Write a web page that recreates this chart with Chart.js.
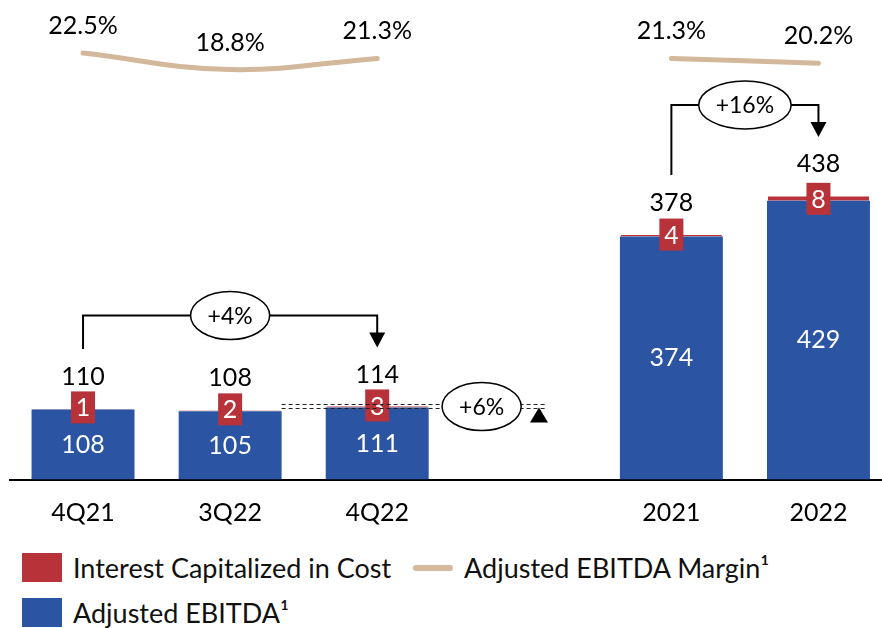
<!DOCTYPE html>
<html>
<head>
<meta charset="utf-8">
<script src="https://cdn.jsdelivr.net/npm/chart.js@4/dist/chart.umd.min.js"></script>
<style>
    html, body { margin: 0; padding: 0; background: #fff; overflow: hidden; }
    body { width: 882px; height: 628px; position: relative; font-family: Lato, sans-serif; }
    #wrap { position: absolute; left: 0; top: 0; width: 892px; height: 550px; }
    .legend-row { position: absolute; left: 22px; display: flex; align-items: center; font-size: 27px; color: #111; white-space: nowrap; }
    .sq { width: 40px; height: 29px; margin-right: 11px; }
    .ln { width: 40px; height: 6px; border-radius: 3px; margin: 0 11px 0 22px; }
</style>
</head>
<body>
<div id="wrap"><canvas id="chart" width="892" height="550"></canvas></div>
<div class="legend-row" style="top:551px">
    <span class="sq" style="background:#B8323A"></span>Interest Capitalized in Cost
    <span class="ln" style="background:#D4B89B"></span>Adjusted EBITDA Margin¹
</div>
<div class="legend-row" style="top:596px">
    <span class="sq" style="background:#2B54A2"></span>Adjusted EBITDA¹
</div>
<script>
const categories = ['4Q21', '3Q22', '4Q22', '', '2021', '2022'];
const adjustedEbitda = [108, 105, 111, null, 374, 429];
const interestCapitalized = [1, 2, 3, null, 4, 8];
const totals = [110, 108, 114, null, 378, 438];
const ebitdaMargin = [22.5, 18.8, 21.3, null, 21.3, 20.2];
const marginLabels = ['22.5%', '18.8%', '21.3%', '', '21.3%', '20.2%'];
const growthBrackets = [
    { from: 0, to: 2, label: '+4%' },
    { from: 4, to: 5, label: '+16%' }
];
const growthQoQ = { from: 1, to: 2, label: '+6%' };

const BLUE = '#2B54A2';
const RED = '#B8323A';
const TAN = '#D4B89B';
const font = size => `${size}px Lato, sans-serif`;

function drawEllipse(ctx, cx, cy, text, ry) {
    ctx.font = font(23);
    const rx = ctx.measureText(text).width / 2 + 17;
    ctx.beginPath();
    ctx.ellipse(cx, cy, rx, ry, 0, 0, Math.PI * 2);
    ctx.fillStyle = '#fff';
    ctx.fill();
    ctx.lineWidth = 1.5;
    ctx.strokeStyle = '#000';
    ctx.stroke();
    ctx.fillStyle = '#000';
    ctx.fillText(text, cx, cy + 1);
}

const annotations = {
    id: 'annotations',
    afterDatasetsDraw(chart) {
        const ctx = chart.ctx;
        const xs = chart.scales.x;
        const ys = chart.scales.y;
        const blueMeta = chart.getDatasetMeta(0);
        const lineMeta = chart.getDatasetMeta(2);
        ctx.save();
        ctx.textAlign = 'center';
        ctx.textBaseline = 'middle';

        categories.forEach((c, i) => {
            if (adjustedEbitda[i] == null) return;
            const bar = blueMeta.data[i];
            // value inside the blue bar
            ctx.font = font(25);
            ctx.fillStyle = '#fff';
            ctx.fillText(String(adjustedEbitda[i]), bar.x, (bar.y + bar.base) / 2);
            // red box with capitalized interest
            ctx.fillStyle = RED;
            ctx.fillRect(bar.x - 12, bar.y - 18, 24, 32);
            ctx.fillStyle = '#fff';
            ctx.fillText(String(interestCapitalized[i]), bar.x, bar.y - 1);
            // total on top
            ctx.fillStyle = '#000';
            ctx.fillText(String(totals[i]), bar.x, ys.getPixelForValue(totals[i]) - 31);
            // margin label
            const pt = lineMeta.data[i];
            ctx.fillText(marginLabels[i], pt.x, pt.y - 27);
        });

        // growth brackets
        growthBrackets.forEach(b => {
            const x1 = xs.getPixelForValue(b.from);
            const x2 = xs.getPixelForValue(b.to);
            const t1 = ys.getPixelForValue(totals[b.from]);
            const t2 = ys.getPixelForValue(totals[b.to]);
            const top = Math.min(t1, t2) - 90;
            const tip = t2 - 58;
            ctx.strokeStyle = '#000';
            ctx.lineWidth = 2;
            ctx.beginPath();
            ctx.moveTo(x1, t1 - 59);
            ctx.lineTo(x1, top);
            ctx.lineTo(x2, top);
            ctx.lineTo(x2, tip - 14);
            ctx.stroke();
            ctx.fillStyle = '#000';
            ctx.beginPath();
            ctx.moveTo(x2 - 8, tip - 15);
            ctx.lineTo(x2 + 8, tip - 15);
            ctx.lineTo(x2, tip);
            ctx.closePath();
            ctx.fill();
            drawEllipse(ctx, (x1 + x2) / 2, top, b.label, 24);
        });

        // quarter over quarter comparison
        const lvl = ys.getPixelForValue(totals[growthQoQ.to]);
        const dx1 = xs.getPixelForValue(growthQoQ.from + 0.35);
        const dx2 = xs.getPixelForValue(growthQoQ.to + 1.15);
        ctx.strokeStyle = '#222';
        ctx.lineWidth = 1;
        ctx.setLineDash([4, 3]);
        [lvl - 1, lvl + 3].forEach(ly => {
            ctx.beginPath();
            ctx.moveTo(dx1, ly);
            ctx.lineTo(dx2, ly);
            ctx.stroke();
        });
        ctx.setLineDash([]);
        drawEllipse(ctx, xs.getPixelForValue(growthQoQ.to + 0.71), lvl + 1, growthQoQ.label, 24);
        const ax = xs.getPixelForValue(growthQoQ.to + 1.1);
        ctx.fillStyle = '#000';
        ctx.beginPath();
        ctx.moveTo(ax, lvl + 2);
        ctx.lineTo(ax + 9, lvl + 17);
        ctx.lineTo(ax - 9, lvl + 17);
        ctx.closePath();
        ctx.fill();
        ctx.restore();
    }
};

new Chart(document.getElementById('chart'), {
    type: 'bar',
    data: {
        labels: categories,
        datasets: [
            {
                label: 'Adjusted EBITDA¹',
                data: adjustedEbitda,
                backgroundColor: BLUE,
                borderWidth: 0,
                stack: 's'
            },
            {
                label: 'Interest Capitalized in Cost',
                data: interestCapitalized,
                backgroundColor: RED,
                borderColor: '#fff',
                borderWidth: 1,
                stack: 's'
            },
            {
                type: 'line',
                label: 'Adjusted EBITDA Margin¹',
                data: ebitdaMargin,
                yAxisID: 'y2',
                borderColor: TAN,
                borderWidth: 5,
                borderCapStyle: 'round',
                pointRadius: 0,
                tension: 0.4,
                spanGaps: false
            }
        ]
    },
    options: {
        responsive: false,
        animation: false,
        layout: { padding: { left: 9.5, right: 0, top: 0, bottom: 4.4 } },
        datasets: { bar: { categoryPercentage: 1, barPercentage: 0.7 } },
        plugins: {
            legend: { display: false },
            tooltip: { enabled: false }
        },
        scales: {
            x: {
                stacked: true,
                grid: { display: false, drawTicks: false },
                border: { display: true, color: '#000', width: 2 },
                ticks: { color: '#000', font: { family: 'Lato, sans-serif', size: 25 }, padding: 18 }
            },
            y: {
                stacked: true,
                display: false,
                min: 0,
                max: 738
            },
            y2: {
                display: false,
                min: -73.2,
                max: 34.4
            }
        }
    },
    plugins: [annotations]
});
</script>
</body>
</html>
